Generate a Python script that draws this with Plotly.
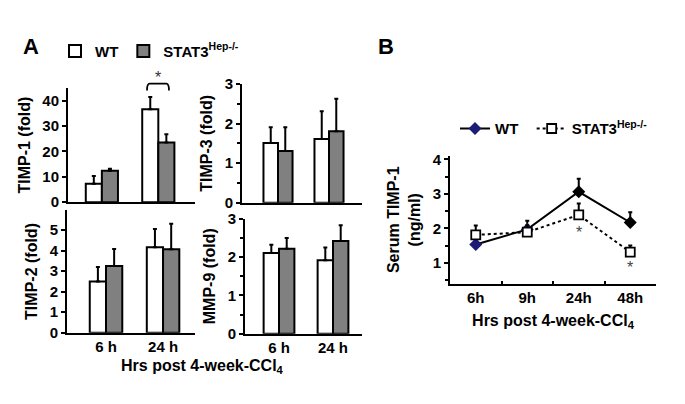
import plotly.graph_objects as go

W, H = 685, 404
FONT = "Liberation Sans, Arial, sans-serif"

# ---------------- data ----------------
times_a = ["6 h", "24 h"]
name_wt = "WT"
name_ko = "STAT3<sup>Hep-/-</sup>"

timp1_wt = [7.3, 36.6]
timp1_wt_err = [3.0, 4.9]
timp1_ko = [12.4, 23.5]
timp1_ko_err = [0.8, 3.3]

timp3_wt = [1.51, 1.61]
timp3_wt_err = [0.40, 0.70]
timp3_ko = [1.31, 1.81]
timp3_ko_err = [0.60, 0.82]

timp2_wt = [2.5, 4.16]
timp2_wt_err = [0.70, 0.89]
timp2_ko = [3.25, 4.07]
timp2_ko_err = [0.83, 1.24]

mmp9_wt = [2.11, 1.92]
mmp9_wt_err = [0.21, 0.33]
mmp9_ko = [2.22, 2.42]
mmp9_ko_err = [0.28, 0.41]

times_b = ["6h", "9h", "24h", "48h"]
serum_wt = [1.53, 1.97, 3.06, 2.17]
serum_wt_err = [0.08, 0.25, 0.38, 0.30]
serum_ko = [1.81, 1.89, 2.39, 1.31]
serum_ko_err = [0.27, 0.20, 0.33, 0.19]

# ---------------- helpers ----------------
def px_x(p):
    return p / W


def px_y(p):
    return 1 - p / H


def bar(x, y, err, fill, name, xa, ya, show):
    return go.Bar(
        x=x, y=y, name=name, xaxis=xa, yaxis=ya,
        marker=dict(color=fill, line=dict(color="black", width=2)),
        error_y=dict(type="data", array=err, arrayminus=[0] * len(err), symmetric=False,
                     color="black", thickness=2, width=2),
        showlegend=show, legend="legend", legendgroup=name,
    )


fig = go.Figure()
panels = [
    ("x", "y", timp1_wt, timp1_wt_err, timp1_ko, timp1_ko_err, True),
    ("x2", "y2", timp3_wt, timp3_wt_err, timp3_ko, timp3_ko_err, False),
    ("x3", "y3", timp2_wt, timp2_wt_err, timp2_ko, timp2_ko_err, False),
    ("x4", "y4", mmp9_wt, mmp9_wt_err, mmp9_ko, mmp9_ko_err, False),
]
for xa, ya, wv, we, kv, ke, show in panels:
    fig.add_trace(bar(times_a, wv, we, "white", name_wt, xa, ya, show))
    fig.add_trace(bar(times_a, kv, ke, "#808080", name_ko, xa, ya, show))

fig.add_trace(go.Scatter(
    x=times_b, y=serum_wt, name=name_wt + "\u00a0\u00a0", xaxis="x5", yaxis="y5",
    mode="lines+markers",
    line=dict(color="black", width=2),
    marker=dict(symbol="diamond", size=10, color=["#1b1b78", "#1b1b78", "black", "black"]),
    error_y=dict(type="data", array=serum_wt_err, arrayminus=[0] * 4, symmetric=False,
                 color="black", thickness=2, width=2),
    legend="legend2",
))
fig.add_trace(go.Scatter(
    x=times_b, y=serum_ko, name=name_ko, xaxis="x5", yaxis="y5", mode="lines+markers",
    line=dict(color="black", width=2, dash="dot"),
    marker=dict(symbol="square", size=9, color="white", line=dict(color="black", width=1.8)),
    error_y=dict(type="data", array=serum_ko_err, arrayminus=[0] * 4, symmetric=False,
                 color="black", thickness=2, width=2),
    legend="legend2",
))

tickfont = dict(family=FONT, size=15, color="black", weight=700)
titlefont = dict(family=FONT, size=16, color="black", weight=700)


def yax(dom, rng, dtick, title, anchor, minor=None, standoff=8):
    d = dict(domain=[px_y(dom[1]), px_y(dom[0])], range=rng, dtick=dtick, tick0=0, anchor=anchor,
             showline=True, linecolor="black", linewidth=2, ticks="outside", ticklen=4,
             tickwidth=2, tickcolor="black", showgrid=False, zeroline=False,
             tickfont=tickfont, fixedrange=True,
             title=dict(text=title, font=titlefont, standoff=standoff))
    if minor:
        d["minor"] = dict(dtick=minor, ticks="outside", ticklen=3, tickwidth=2,
                          tickcolor="black", showgrid=False)
    return d


def xax(dom, rng, anchor, labels):
    return dict(domain=[px_x(dom[0]), px_x(dom[1])], range=rng, anchor=anchor,
                showline=True, linecolor="black", linewidth=2, ticks="", showgrid=False,
                zeroline=False, showticklabels=labels, tickfont=tickfont, fixedrange=True,
                type="category", ticklabelstandoff=-1)


fig.update_layout(
    width=W, height=H, margin=dict(l=0, r=0, t=0, b=0),
    paper_bgcolor="white", plot_bgcolor="white",
    barmode="group", bargap=0.43, bargroupgap=0,
    font=dict(family=FONT, color="black"),
    xaxis=xax((68, 195), [-0.6, 1.65], "y", False),
    yaxis=yax((82.5, 201.7), [0, 45], 10, "TIMP-1 (fold)", "x"),
    xaxis2=xax((242, 362), [-0.706, 1.647], "y2", False),
    yaxis2=yax((78.3, 202.3), [0, 3], 1, "TIMP-3 (fold)", "x2", minor=0.5),
    xaxis3=xax((67, 195), [-0.684, 1.56], "y3", True),
    yaxis3=yax((210, 338), [0, 5.97], 1, "TIMP-2 (fold)", "x3"),
    xaxis4=xax((245, 362), [-0.63, 1.537], "y4", True),
    yaxis4=yax((219, 339), [0, 3], 1, "MMP-9 (fold)", "x4", minor=0.5),
    xaxis5=dict(domain=[px_x(450), px_x(656)], range=[-0.5, 3.5], anchor="y5", type="category",
                showline=True, linecolor="black", linewidth=2, ticks="inside", tickson="boundaries",
                ticklen=3, tickwidth=1.5, tickcolor="black", showgrid=False, zeroline=False,
                tickfont=tickfont, fixedrange=True, ticklabelstandoff=-1,
                title=dict(text="Hrs post 4-week-CCl<sub>4</sub>", font=titlefont, standoff=10)),
    yaxis5=yax((153, 287), [0.39, 4.11], 1, "Serum TIMP-1<br>(ng/ml)", "x5", minor=0.5, standoff=8),
    legend=dict(orientation="h", x=px_x(55), y=px_y(44), xanchor="left", yanchor="middle",
                font=dict(family=FONT, size=15, color="black", weight=700),
                bgcolor="rgba(0,0,0,0)", traceorder="normal", itemwidth=30),
    legend2=dict(orientation="h", x=px_x(455), y=px_y(125), xanchor="left", yanchor="middle",
                 font=dict(family=FONT, size=15, color="black", weight=700),
                 bgcolor="rgba(0,0,0,0)", traceorder="normal", itemwidth=30),
    showlegend=True,
)

annots = [
    dict(text="<b>A</b>", x=px_x(21), y=px_y(39), xref="paper", yref="paper", xanchor="left",
         yanchor="middle", showarrow=False, font=dict(family=FONT, size=22, color="black")),
    dict(text="<b>B</b>", x=px_x(376), y=px_y(39), xref="paper", yref="paper", xanchor="left",
         yanchor="middle", showarrow=False, font=dict(family=FONT, size=22, color="black")),
    dict(text="<b>Hrs post 4-week-CCl<sub>4</sub></b>", x=px_x(202), y=px_y(373), xref="paper",
         yref="paper", xanchor="center", yanchor="middle", showarrow=False,
         font=dict(family=FONT, size=16, color="black")),
    dict(text="*", x=px_x(158), y=px_y(71), xref="paper", yref="paper", xanchor="center",
         yanchor="middle", showarrow=False, font=dict(family=FONT, size=16, color="#333333")),
    dict(text="*", x="24h", y=serum_ko[2], xref="x5", yref="y5", yshift=-18, showarrow=False,
         font=dict(family=FONT, size=16, color="#444444")),
    dict(text="*", x="48h", y=serum_ko[3], xref="x5", yref="y5", yshift=-15, showarrow=False,
         font=dict(family=FONT, size=16, color="#444444")),
]
fig.update_layout(annotations=annots)

x0, x1, yt, yb = px_x(147), px_x(169), px_y(78), px_y(85)
fig.add_shape(type="path", xref="paper", yref="paper",
              path=f"M {x0},{yb} Q {x0},{yt} {x0 + 0.004},{yt} L {x1 - 0.004},{yt} Q {x1},{yt} {x1},{yb}",
              line=dict(color="black", width=1.8))

fig.write_html("out.html", config={"displayModeBar": False},
               post_script="document.body.style.margin='0px';")
